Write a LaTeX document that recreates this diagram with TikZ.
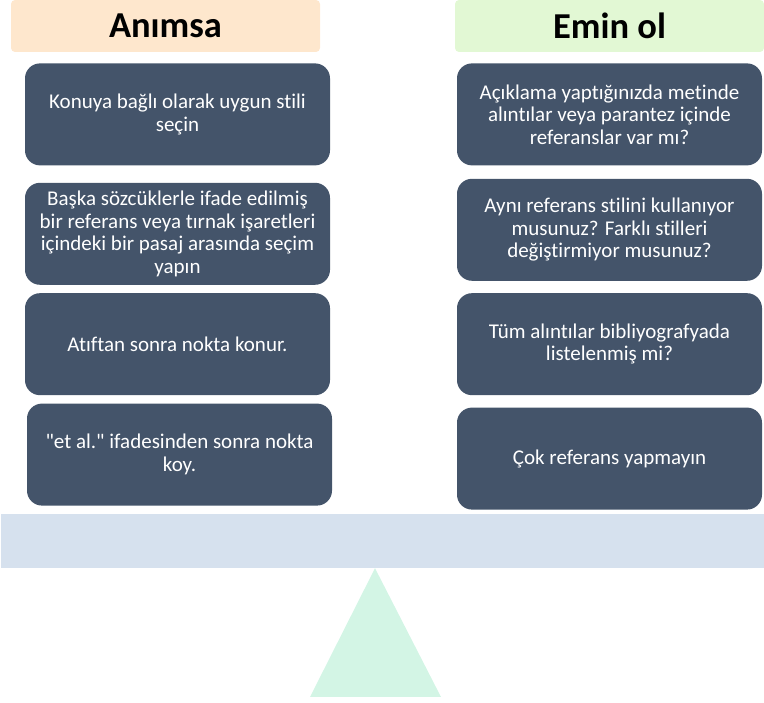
\documentclass[tikz,border=0pt]{standalone}
\usepackage{fontspec}
\setmainfont{Carlito}[Ligatures={TeXOff,NoCommon}]
\usetikzlibrary{positioning}
\definecolor{slate}{HTML}{44546A}
\definecolor{peach}{HTML}{FEE7CD}
\definecolor{mint}{HTML}{E2F8D4}
\definecolor{beam}{HTML}{D6E1EE}
\definecolor{pivot}{HTML}{D3F5E5}
\begin{document}
\begin{tikzpicture}[
    x=1pt, y=1pt,
    head/.style={fill=#1, rounded corners=4pt, minimum width=309pt, minimum height=52pt,
      inner sep=0pt, font=\fontsize{36.5}{40}\selectfont\bfseries},
    card/.style={fill=slate, rounded corners=15pt, text=white, align=center,
      minimum width=305pt, minimum height=102pt, inner sep=0pt,
      font=\fontsize{21}{22.5}\selectfont}]
  \useasboundingbox (0,0) rectangle (764,703);
  \node[head=peach] (hl) at (165.5,677) {Anımsa};
  \node[head=mint] (hr) at (609.5,677) {Emin ol};
  \node[card, below=11pt of hl, xshift=12pt] (l1) {Konuya bağlı olarak uygun stili\\seçin};
  \node[card, below=17pt of l1] (l2) {Başka sözcüklerle ifade edilmiş\\bir referans veya tırnak işaretleri\\içindeki bir pasaj arasında seçim\\yapın};
  \node[card, below=8pt of l2] (l3) {Atıftan sonra nokta konur.};
  \node[card, below=8pt of l3, xshift=2pt] (l4) {"et al." ifadesinden sonra nokta\\koy.};
  \node[card, below=11pt of hr] (r1) {Açıklama yaptığınızda metinde\\alıntılar veya parantez içinde\\referanslar var mı?};
  \node[card, below=13pt of r1] (r2) {Aynı referans stilini kullanıyor\\musunuz? Farklı stilleri\\değiştirmiyor musunuz?};
  \node[card, below=12pt of r2] (r3) {Tüm alıntılar bibliyografyada\\listelenmiş mi?};
  \node[card, below=12pt of r3] (r4) {Çok referans yapmayın};
  \node[fill=beam, minimum width=763pt, minimum height=54pt, inner sep=0pt] (bar) at (382.5,162) {};
  \fill[pivot] (bar.south -| 375,0) -- (441,6) -- (310,6) -- cycle;
\end{tikzpicture}
\end{document}
